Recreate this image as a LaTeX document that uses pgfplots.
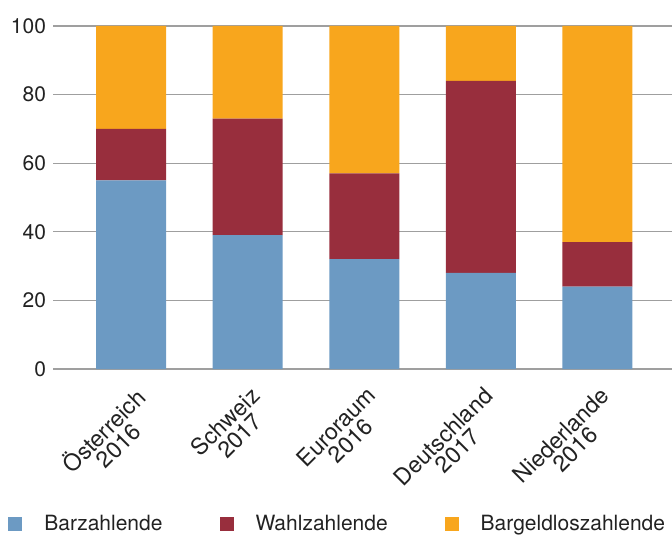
\documentclass[border=0pt]{standalone}
\usepackage{pgfplots}
\pgfplotsset{compat=1.18}
\usepackage{fontspec}
\setmainfont{TeX Gyre Heros}
\definecolor{cblue}{HTML}{6C9AC3}
\definecolor{cred}{HTML}{982E3D}
\definecolor{corange}{HTML}{F8A61D}
\definecolor{ctext}{HTML}{222222}
\begin{document}
\begin{tikzpicture}[font=\fontsize{10.5}{12}\selectfont, color=ctext]
\begin{axis}[
  at={(0pt,0pt)}, anchor=south west,
  width=309.5pt, height=171.5pt, scale only axis,
  ybar stacked, bar width=35pt,
  xmin=-0.67, xmax=4.64, ymin=0, ymax=100,
  ytick={0,20,40,60,80,100},
  xtick={0,1,2,3,4},
  xticklabels={{Österreich\\2016},{Schweiz\\2017},{Euroraum\\2016},{Deutschland\\2017},{Niederlande\\2016}},
  x tick label style={rotate=45, anchor=north east, align=center, inner sep=0pt, xshift=-5pt, yshift=-6pt, font=\fontsize{11.5}{10}\selectfont},
  yticklabel style={/pgf/number format/assume math mode=true, font=\fontsize{10.5}{12}\selectfont},
  axis line style={draw=none},
  major tick length=0pt,
  ymajorgrids, grid style={draw=gray!75, line width=0.6pt},
  legend columns=3,
  legend style={at={(-0.0727,-0.452)}, anchor=west, draw=none, fill=none, inner sep=0pt,
    /tikz/every even column/.append style={column sep=26.5pt}, font=\fontsize{10.5}{12}\selectfont},
  legend cell align=left,
  legend image code/.code={\fill[#1] (0pt,-3.5pt) rectangle (7pt,3.5pt);},
]
\addplot[fill=cblue, draw=none] coordinates {(0,55) (1,39) (2,32) (3,28) (4,24)};
\addplot[fill=cred, draw=none] coordinates {(0,15) (1,34) (2,25) (3,56) (4,13)};
\addplot[fill=corange, draw=none] coordinates {(0,30) (1,27) (2,43) (3,16) (4,63)};
\legend{\hspace{9pt}Barzahlende, \hspace{9pt}Wahlzahlende, \hspace{9pt}Bargeldloszahlende}
\end{axis}
\pgfresetboundingbox
\useasboundingbox (-26.5pt,-82.5pt) rectangle (309.5pt,184.5pt);
\end{tikzpicture}
\end{document}
